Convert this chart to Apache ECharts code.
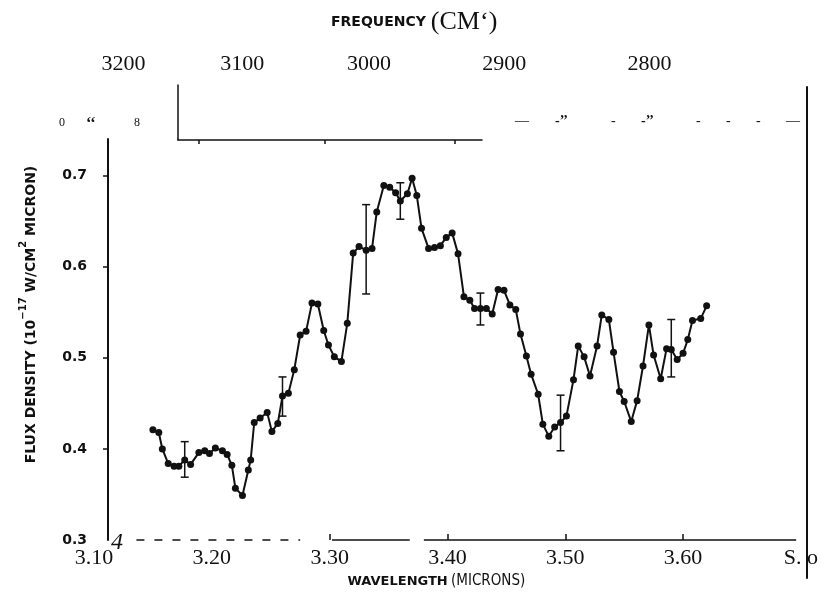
<!DOCTYPE html>
<html>
<head>
<meta charset="utf-8">
<script src="https://cdn.jsdelivr.net/npm/echarts@6/dist/echarts.min.js"></script>
<style>
html,body{margin:0;padding:0;background:#fff;}
#chart{width:821px;height:594px;}
</style>
</head>
<body>
<div id="chart"></div>
<script>
// wavelength (microns) and flux density
var wavelength = [3.150,3.155,3.158,3.163,3.168,3.172,3.177,3.182,3.189,3.194,3.198,3.203,3.209,3.213,3.217,3.220,3.226,3.231,3.233,3.236,
	3.241,3.247,3.251,3.256,3.260,3.265,3.270,3.275,3.280,3.285,3.290,3.295,3.299,3.304,3.310,3.315,3.320,3.325,3.331,3.336,
	3.340,3.346,3.351,3.356,3.360,3.366,3.370,3.374,3.378,3.384,3.389,3.394,3.399,3.404,3.409,3.414,3.419,3.423,3.428,3.433,
	3.438,3.443,3.448,3.453,3.458,3.462,3.467,3.471,3.477,3.481,3.486,3.491,3.496,3.501,3.507,3.511,3.516,3.521,3.527,3.531,
	3.537,3.541,3.546,3.550,3.556,3.561,3.566,3.571,3.575,3.581,3.586,3.590,3.595,3.600,3.604,3.608,3.615,3.620];
var flux = [0.421,0.418,0.400,0.384,0.381,0.381,0.388,0.383,0.396,0.398,0.395,0.401,0.398,0.394,0.382,0.357,0.349,0.377,0.388,0.429,
	0.434,0.440,0.419,0.428,0.458,0.461,0.487,0.525,0.529,0.560,0.559,0.530,0.514,0.501,0.496,0.538,0.615,0.622,0.618,0.620,
	0.660,0.689,0.687,0.681,0.672,0.680,0.697,0.678,0.642,0.620,0.621,0.623,0.632,0.637,0.614,0.567,0.563,0.554,0.554,0.554,
	0.548,0.575,0.574,0.558,0.553,0.526,0.502,0.482,0.460,0.427,0.414,0.424,0.429,0.436,0.476,0.513,0.501,0.480,0.513,0.547,
	0.542,0.506,0.463,0.452,0.430,0.453,0.491,0.536,0.503,0.477,0.510,0.509,0.498,0.505,0.520,0.541,0.543,0.557];

// error bars
var errWavelength = [3.177,3.260,3.331,3.360,3.428,3.496,3.590];
var errLow = [0.369,0.436,0.570,0.652,0.536,0.398,0.479];
var errHigh = [0.408,0.479,0.668,0.692,0.571,0.459,0.542];

// axis labels
var waveTicks = [3.10,3.20,3.30,3.40,3.50,3.60,3.70];
var waveTickText = ['3.10','3.20','3.30','3.40','3.50','3.60','S. o'];
var freqTicks = [3200,3100,3000,2900,2800];
var fluxTicks = [0.3,0.4,0.5,0.6,0.7];

var serif = 'Liberation Serif';
var sans = 'DejaVu Sans';
var narrow = "'DejaVu Sans Condensed', 'Liberation Sans', sans-serif";

var myChart = echarts.init(document.getElementById('chart'));

var lineData = [];
for (var i = 0; i < wavelength.length; i++) {
	lineData.push([wavelength[i], flux[i]]);
}
var errData = [];
for (var j = 0; j < errWavelength.length; j++) {
	errData.push([errWavelength[j], errLow[j], errHigh[j]]);
}

var option = {
	backgroundColor: '#fff',
	animation: false,
	title: {
		text: '{a|FREQUENCY} {b|(CM‘)}',
		left: 326,
		top: 4,
		textStyle: {
			fontWeight: 'normal',
			rich: {
				a: {fontFamily: sans, fontWeight: 'bold', fontSize: 14, color: '#111'},
				b: {fontFamily: serif, fontWeight: 'normal', fontSize: 26, color: '#111'}
			}
		}
	},
	grid: [
		{left: 94, right: 11, top: 139, bottom: 53.5},
		{left: 178, top: 85, width: 304, height: 55},
		{left: 807, top: 87, width: 2, bottom: 16}
	],
	xAxis: [
		{
			gridIndex: 0,
			type: 'value',
			min: 3.10,
			max: 3.70,
			interval: 0.1,
			axisLine: {show: false},
			axisTick: {show: true, inside: true, length: 6, customValues: [3.3,3.4,3.5,3.6], lineStyle: {color: '#111', width: 1.5}},
			splitLine: {show: false},
			axisLabel: {
				customValues: waveTicks,
				margin: 7,
				fontFamily: serif,
				fontSize: 22,
				color: '#111',
				formatter: function(v){
					for (var k = 0; k < waveTicks.length; k++) {
						if (Math.abs(waveTicks[k] - v) < 1e-6) return waveTickText[k];
					}
					return '';
				}
			},
			name: '{a|WAVELENGTH} {b|(MICRONS)}',
			nameLocation: 'middle',
			nameGap: 33,
			nameTextStyle: {
				padding: [0, 22, 0, 0],
				rich: {
					a: {fontFamily: sans, fontWeight: 'bold', fontSize: 13, color: '#111'},
					b: {fontFamily: narrow, fontSize: 15, color: '#111'}
				}
			}
		},
		{
			gridIndex: 0,
			type: 'value',
			position: 'top',
			offset: 54,
			min: 3.10,
			max: 3.70,
			axisLine: {show: false},
			axisTick: {show: false},
			splitLine: {show: false},
			axisLabel: {
				customValues: freqTicks.map(function(f){ return 10000 / f; }),
				margin: 10,
				fontFamily: serif,
				fontSize: 22,
				color: '#111',
				formatter: function(v){ return String(Math.round(10000 / v / 100) * 100); }
			}
		},
		{
			gridIndex: 1,
			type: 'value',
			position: 'top',
			min: 3.170,
			max: 3.425,
			axisLine: {show: true, lineStyle: {color: '#111', width: 1.5}},
			axisTick: {show: true, inside: true, length: 4, customValues: [3.187,3.293,3.402], lineStyle: {color: '#111', width: 1.5}},
			axisLabel: {show: false},
			splitLine: {show: false}
		},
		{
			gridIndex: 2,
			type: 'value',
			show: false
		}
	],
	yAxis: [
		{
			gridIndex: 0,
			type: 'value',
			min: 0.3,
			max: 0.74,
			offset: -14,
			axisLine: {show: true, lineStyle: {color: '#111', width: 2}},
			axisTick: {show: true, length: 5, customValues: [0.4,0.5,0.6,0.7], lineStyle: {color: '#111', width: 1.5}},
			splitLine: {show: false},
			axisLabel: {
				customValues: fluxTicks,
				margin: 21,
				fontFamily: sans,
				fontWeight: 'bold',
				fontSize: 14,
				color: '#111',
				formatter: function(v){ return v.toFixed(1); }
			},
			name: '{a|FLUX DENSITY (10}{s|−17}{a| W/CM}{s|2}{a| MICRON)}',
			nameLocation: 'middle',
			nameRotate: 90,
			nameGap: 70,
			nameTextStyle: {
				padding: [0, 0, 0, 50],
				rich: {
					a: {fontFamily: sans, fontWeight: 'bold', fontSize: 14, color: '#111', lineHeight: 20, verticalAlign: 'bottom'},
					s: {fontFamily: sans, fontWeight: 'bold', fontSize: 10, color: '#111', lineHeight: 20, verticalAlign: 'top'}
				}
			}
		},
		{
			gridIndex: 1,
			type: 'value',
			position: 'left',
			axisLine: {show: true, onZero: false, lineStyle: {color: '#111', width: 1.5}},
			axisTick: {show: false},
			axisLabel: {show: false},
			splitLine: {show: false}
		},
		{
			gridIndex: 2,
			type: 'value',
			position: 'left',
			axisLine: {show: true, onZero: false, lineStyle: {color: '#111', width: 2}},
			axisTick: {show: false},
			axisLabel: {show: false},
			splitLine: {show: false}
		}
	],
	graphic: [
		{type: 'text', left: 59, top: 117, style: {text: '0', font: '12px "Liberation Serif"', fill: '#111'}},
		{type: 'text', left: 86, top: 116, style: {text: '‘‘', font: 'bold 16px "Liberation Serif"', fill: '#111'}},
		{type: 'text', left: 134, top: 117, style: {text: '8', font: '12px "Liberation Serif"', fill: '#111'}},
		{type: 'text', left: 515, top: 114, style: {text: '—', font: '14px "Liberation Serif"', fill: '#111'}},
		{type: 'text', left: 555, top: 114, style: {text: '-’’', font: 'bold 14px "Liberation Serif"', fill: '#111'}},
		{type: 'text', left: 611, top: 114, style: {text: '-', font: '14px "Liberation Serif"', fill: '#111'}},
		{type: 'text', left: 641, top: 114, style: {text: '-’’', font: 'bold 14px "Liberation Serif"', fill: '#111'}},
		{type: 'text', left: 696, top: 114, style: {text: '-', font: '14px "Liberation Serif"', fill: '#111'}},
		{type: 'text', left: 726, top: 114, style: {text: '-', font: '14px "Liberation Serif"', fill: '#111'}},
		{type: 'text', left: 756, top: 114, style: {text: '-', font: '14px "Liberation Serif"', fill: '#111'}},
		{type: 'text', left: 786, top: 114, style: {text: '—', font: '14px "Liberation Serif"', fill: '#111'}},
		{type: 'text', left: 111, top: 531, style: {text: '4', font: 'italic 24px "Liberation Serif"', fill: '#111'}}
	],
	series: [
		{
			name: 'flux',
			type: 'line',
			xAxisIndex: 0,
			yAxisIndex: 0,
			data: lineData,
			symbol: 'circle',
			symbolSize: 7,
			itemStyle: {color: '#111'},
			lineStyle: {color: '#111', width: 2},
			z: 5,
			markLine: {
				silent: true,
				symbol: 'none',
				label: {show: false},
				data: [
					[{coord: [3.136, 0.3], lineStyle: {type: [8, 10], width: 1.5, color: '#111'}}, {coord: [3.275, 0.3]}],
					[{coord: [3.302, 0.3], lineStyle: {type: 'solid', width: 1.5, color: '#111'}}, {coord: [3.368, 0.3]}],
					[{coord: [3.380, 0.3], lineStyle: {type: 'solid', width: 1.5, color: '#111'}}, {coord: [3.696, 0.3]}]
				]
			}
		},
		{
			name: 'error',
			type: 'custom',
			xAxisIndex: 0,
			yAxisIndex: 0,
			data: errData,
			encode: {x: 0, y: [1, 2]},
			z: 6,
			renderItem: function(params, api){
				var x = api.value(0);
				var top = api.coord([x, api.value(2)]);
				var bot = api.coord([x, api.value(1)]);
				var w = 4;
				var st = {stroke: '#111', lineWidth: 1.5};
				return {
					type: 'group',
					children: [
						{type: 'line', shape: {x1: top[0], y1: top[1], x2: bot[0], y2: bot[1]}, style: st},
						{type: 'line', shape: {x1: top[0]-w, y1: top[1], x2: top[0]+w, y2: top[1]}, style: st},
						{type: 'line', shape: {x1: bot[0]-w, y1: bot[1], x2: bot[0]+w, y2: bot[1]}, style: st}
					]
				};
			}
		}
	]
};

myChart.setOption(option);
</script>
</body>
</html>
